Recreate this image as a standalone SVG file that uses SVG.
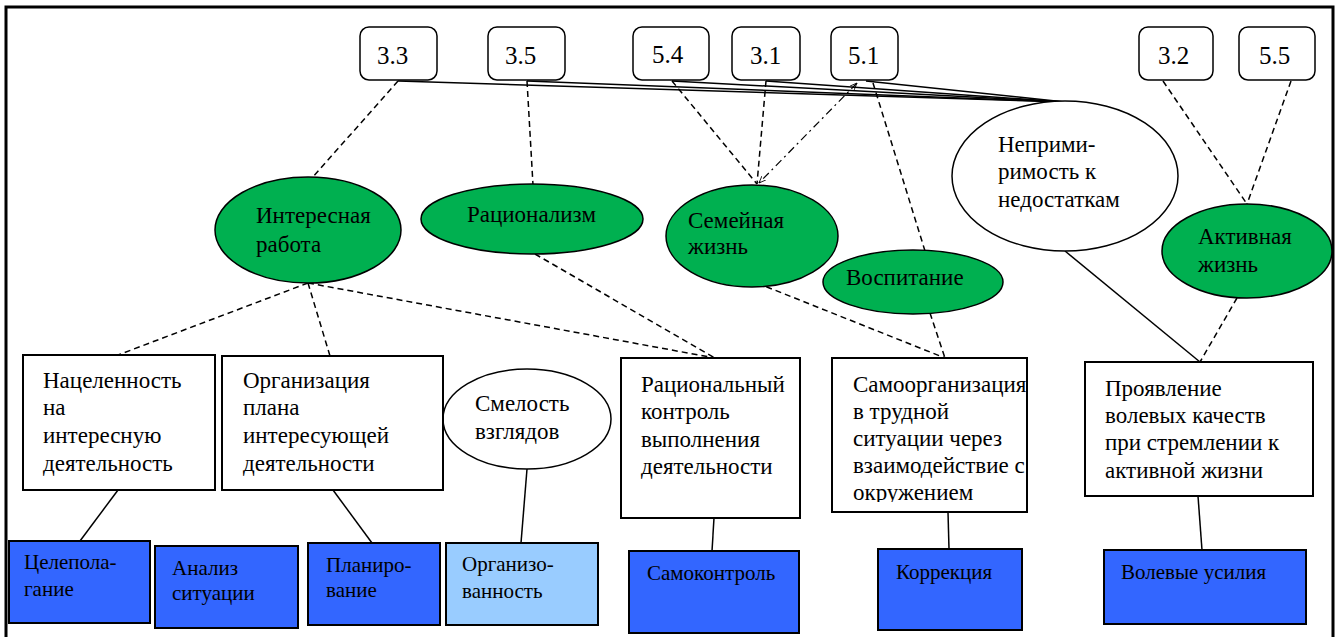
<svg xmlns="http://www.w3.org/2000/svg" width="1340" height="637" viewBox="0 0 1340 637">
<style>
text{font-family:'Liberation Serif','DejaVu Serif',serif;font-size:23px;fill:#000}
.sm{font-size:21px}
.nm{font-size:25px}
.tb{fill:#fff;stroke:#000;stroke-width:1.5}
.el{fill:#00B050;stroke:#000;stroke-width:1.5}
.we{fill:#fff;stroke:#000;stroke-width:1.5}
.bx{fill:#fff;stroke:#000;stroke-width:2}
.bl{fill:#3366FF;stroke:#000;stroke-width:2}
.lb{fill:#99CCFF;stroke:#000;stroke-width:2}
.s{stroke:#000;stroke-width:1.5;fill:none}
.d{stroke:#000;stroke-width:1.5;fill:none;stroke-dasharray:6 4}
.dd{stroke:#000;stroke-width:1.2;fill:none;stroke-dasharray:8 4 2 4}
</style>
<defs>
<marker id="ar" viewBox="0 0 10 10" refX="10" refY="5" markerWidth="7" markerHeight="7" orient="auto-start-reverse" markerUnits="userSpaceOnUse">
<path d="M0,1 L10,5 L0,9" fill="none" stroke="#000" stroke-width="1.2"/>
</marker>
<clipPath id="cp"><rect x="832" y="358" width="195" height="144"/></clipPath>
</defs>
<rect width="1340" height="637" fill="#fff"/>
<path d="M6,637 V7 H1333 V637" fill="none" stroke="#000" stroke-width="3"/>

<g id="connectors">
<line class="s" x1="398" y1="81" x2="1065" y2="102"/>
<line class="s" x1="527" y1="81" x2="1065" y2="102"/>
<line class="s" x1="672" y1="81" x2="1065" y2="102"/>
<line class="s" x1="766" y1="81" x2="1065" y2="102"/>
<line class="s" x1="866" y1="81" x2="1065" y2="102"/>
<line class="d" x1="398" y1="81" x2="312" y2="178"/>
<line class="d" x1="527" y1="81" x2="533" y2="185"/>
<line class="d" x1="672" y1="81" x2="757" y2="184"/>
<line class="d" x1="766" y1="81" x2="757" y2="184"/>
<line class="dd" x1="857" y1="83" x2="759" y2="183" marker-start="url(#ar)" marker-end="url(#ar)"/>
<line class="d" x1="873" y1="83" x2="925" y2="251"/>
<line class="d" x1="1163" y1="81" x2="1247" y2="204"/>
<line class="d" x1="1291" y1="81" x2="1247" y2="204"/>
<line class="d" x1="308" y1="283" x2="118" y2="355"/>
<line class="d" x1="308" y1="283" x2="330" y2="356"/>
<line class="d" x1="308" y1="283" x2="715" y2="358"/>
<line class="d" x1="535" y1="254" x2="715" y2="358"/>
<line class="d" x1="757" y1="283" x2="945" y2="358"/>
<line class="d" x1="930" y1="313" x2="945" y2="358"/>
<line class="d" x1="1237" y1="298" x2="1200" y2="362"/>
<line class="s" x1="1065" y1="251" x2="1200" y2="362"/>
<line class="s" x1="118" y1="490" x2="80" y2="541"/>
<line class="s" x1="333" y1="490" x2="372" y2="543"/>
<line class="s" x1="527" y1="469" x2="521" y2="543"/>
<line class="s" x1="714" y1="518" x2="712" y2="551"/>
<line class="s" x1="948" y1="512" x2="949" y2="549"/>
<line class="s" x1="1198" y1="496" x2="1202" y2="550"/>
</g>

<g id="n33"><rect class="tb" x="360" y="27" width="77" height="53" rx="9"/><text class="nm" x="377" y="64">3.3</text></g>
<g id="n35"><rect class="tb" x="488" y="27" width="77" height="53" rx="9"/><text class="nm" x="505" y="64">3.5</text></g>
<g id="n54"><rect class="tb" x="633" y="27" width="76" height="53" rx="9"/><text class="nm" x="652" y="63">5.4</text></g>
<g id="n31"><rect class="tb" x="732" y="27" width="68" height="53" rx="9"/><text class="nm" x="750" y="64">3.1</text></g>
<g id="n51"><rect class="tb" x="831" y="27" width="67" height="53" rx="9"/><text class="nm" x="848" y="64">5.1</text></g>
<g id="n32"><rect class="tb" x="1139" y="27" width="74" height="53" rx="9"/><text class="nm" x="1158" y="64">3.2</text></g>
<g id="n55"><rect class="tb" x="1239" y="27" width="76" height="53" rx="9"/><text class="nm" x="1259" y="64">5.5</text></g>

<g id="e-work"><ellipse class="el" cx="308" cy="230" rx="93" ry="53"/><text x="256" y="223">Интересная</text><text x="256" y="252">работа</text></g>
<g id="e-rat"><ellipse class="el" cx="532" cy="219" rx="111" ry="35"/><text x="467" y="222">Рационализм</text></g>
<g id="e-fam"><ellipse class="el" cx="752" cy="236" rx="86" ry="51"/><text x="688" y="228">Семейная</text><text x="688" y="254">жизнь</text></g>
<g id="e-edu"><ellipse class="el" cx="913" cy="282" rx="90" ry="32"/><text x="846" y="285">Воспитание</text></g>
<g id="e-intol"><ellipse class="we" cx="1065" cy="176" rx="113" ry="75"/><text x="998" y="152">Неприми-</text><text x="998" y="179">римость к</text><text x="998" y="207">недостаткам</text></g>
<g id="e-act"><ellipse class="el" cx="1247" cy="251" rx="85" ry="47"/><text x="1198" y="244">Активная</text><text x="1198" y="272">жизнь</text></g>
<g id="e-bold"><ellipse class="we" cx="527" cy="419" rx="84" ry="50"/><text x="475" y="411">Смелость</text><text x="475" y="439">взглядов</text></g>

<g id="b-aim"><rect class="bx" x="23" y="355" width="192" height="135"/><text x="43" y="388">Нацеленность</text><text x="43" y="415">на</text><text x="43" y="443">интересную</text><text x="43" y="471">деятельность</text></g>
<g id="b-org"><rect class="bx" x="222" y="356" width="221" height="134"/><text x="243" y="388">Организация</text><text x="243" y="415">плана</text><text x="243" y="443">интересующей</text><text x="243" y="471">деятельности</text></g>
<g id="b-ctrl"><rect class="bx" x="621" y="358" width="179" height="160"/><text x="641" y="392">Рациональный</text><text x="641" y="419">контроль</text><text x="641" y="447">выполнения</text><text x="641" y="474">деятельности</text></g>
<g id="b-self"><rect class="bx" x="832" y="358" width="195" height="154"/><g clip-path="url(#cp)"><text x="853" y="392">Самоорганизация</text><text x="853" y="419">в трудной</text><text x="853" y="446">ситуации через</text><text x="853" y="473">взаимодействие с</text><text x="853" y="500">окружением</text></g></g>
<g id="b-will"><rect class="bx" x="1085" y="362" width="228" height="134"/><text x="1105" y="396">Проявление</text><text x="1105" y="423">волевых качеств</text><text x="1105" y="450">при стремлении к</text><text x="1105" y="478">активной жизни</text></g>

<g id="q-goal"><rect class="bl" x="9" y="541" width="141" height="82"/><text class="sm" x="24" y="569">Целепола-</text><text class="sm" x="24" y="596">гание</text></g>
<g id="q-anal"><rect class="bl" x="155" y="546" width="143" height="82"/><text class="sm" x="172" y="575">Анализ</text><text class="sm" x="172" y="600">ситуации</text></g>
<g id="q-plan"><rect class="bl" x="308" y="543" width="132" height="82"/><text class="sm" x="326" y="572">Планиро-</text><text class="sm" x="326" y="597">вание</text></g>
<g id="q-orgz"><rect class="lb" x="446" y="543" width="152" height="82"/><text class="sm" x="462" y="571">Организо-</text><text class="sm" x="462" y="598">ванность</text></g>
<g id="q-selfc"><rect class="bl" x="629" y="551" width="170" height="82"/><text class="sm" x="647" y="580">Самоконтроль</text></g>
<g id="q-corr"><rect class="bl" x="878" y="549" width="144" height="81"/><text class="sm" x="896" y="579">Коррекция</text></g>
<g id="q-will"><rect class="bl" x="1104" y="550" width="202" height="74"/><text class="sm" x="1121" y="579">Волевые усилия</text></g>
</svg>
